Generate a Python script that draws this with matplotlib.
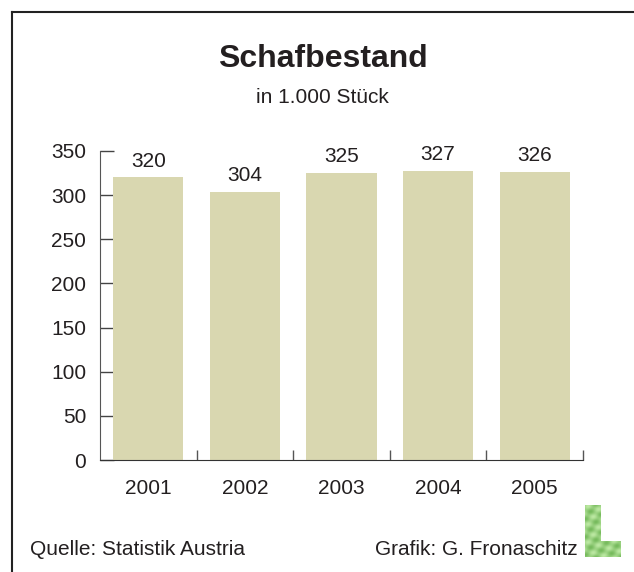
import matplotlib
matplotlib.use("Agg")
import matplotlib.pyplot as plt
import numpy as np
from matplotlib.lines import Line2D

years = ["2001", "2002", "2003", "2004", "2005"]
values = [320, 304, 325, 327, 326]
yticks = [0, 50, 100, 150, 200, 250, 300, 350]

plt.rcParams['font.family'] = ['Liberation Sans', 'DejaVu Sans']
TXT = "#231F20"
BAR = "#D9D7B0"
FS = 15

W, H = 634, 572
fig = plt.figure(figsize=(W/100, H/100), dpi=100)
fig.patch.set_facecolor("white")

# frame (top and left visible)
fig.add_artist(Line2D([12/W, 12/W], [0, 1-12/H], color="#222222", lw=1.5))
fig.add_artist(Line2D([12/W, 1], [1-12/H, 1-12/H], color="#222222", lw=1.5))

ax = fig.add_axes([100/W, 1-460/H, (583-100)/W, (460-151)/H])
x = np.arange(len(years))
bars = ax.bar(x, values, width=0.725, color=BAR, zorder=2)
for xi, v in zip(x, values):
    ax.annotate(str(v), (xi, v), xytext=(0, 5), textcoords="offset points",
                ha="center", va="bottom", fontsize=FS, color=TXT)

ax.set_xlim(-0.5, len(years)-0.5)
ax.set_ylim(0, 350)
ax.set_yticks(yticks)
ax.set_yticklabels([str(t) for t in yticks], fontsize=FS, color=TXT)
ax.set_xticks(x)
ax.set_xticklabels(years, fontsize=FS, color=TXT)
ax.tick_params(axis="x", which="major", length=0, pad=14)
ax.set_xticks(np.arange(0.5, len(years), 1.0), minor=True)
ax.tick_params(axis="x", which="minor", direction="in", length=7, width=1, color="#555555")
ax.tick_params(axis="y", direction="in", length=10, width=1, color="#444444", pad=10)
for s in ["top", "right"]:
    ax.spines[s].set_visible(False)
ax.spines["left"].set_color("#555555")
ax.spines["bottom"].set_color("#333333")

fig.text(323/W, 1-67/H, "Schafbestand", ha="center", va="baseline",
         fontsize=23, fontweight="bold", color=TXT)
fig.text(322/W, 1-103/H, "in 1.000 Stück", ha="center", va="baseline",
         fontsize=FS, color=TXT)
fig.text(30/W, 1-555/H, "Quelle: Statistik Austria", ha="left", va="baseline",
         fontsize=FS, color=TXT)
fig.text(578/W, 1-555/H, "Grafik: G. Fronaschitz", ha="right", va="baseline",
         fontsize=FS, color=TXT)

# green L logo
lax = fig.add_axes([585/W, 1-557/H, 36/W, 52/H])
lax.set_axis_off()
gy, gx = np.mgrid[0:52, 0:36]
g = 0.5 + 0.25*np.sin(gx*0.5 + gy*0.35) + 0.2*np.cos(gy*0.7 - gx*0.2)
img = np.ones((52, 36, 4))
img[..., 0] = 0.45 + 0.3*g
img[..., 1] = 0.72 + 0.2*g
img[..., 2] = 0.35 + 0.3*g
mask = np.zeros((52, 36), bool)
mask[:, :16] = True
mask[36:, :] = True
img[..., 3] = mask.astype(float)
lax.imshow(img, aspect="auto", interpolation="bilinear")

fig.savefig("out.png", dpi=100, facecolor="white")
